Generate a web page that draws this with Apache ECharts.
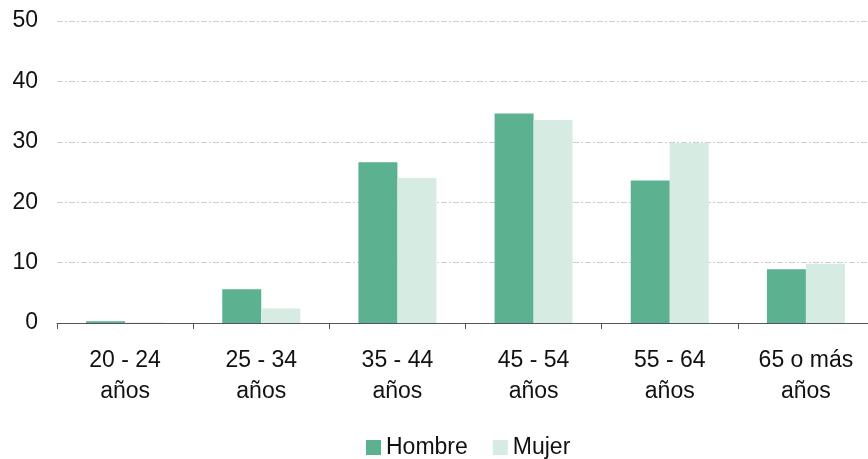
<!DOCTYPE html>
<html>
<head>
<meta charset="utf-8">
<script src="https://cdn.jsdelivr.net/npm/echarts@6/dist/echarts.min.js"></script>
<style>html,body{margin:0;padding:0;background:#fff;}#c{width:868px;height:459px;}</style>
</head>
<body>
<div id="c"></div>
<script>
const categories = ['20 - 24\naños', '25 - 34\naños', '35 - 44\naños', '45 - 54\naños', '55 - 64\naños', '65 o más\naños'];
const hombre = [0.3, 5.6, 26.6, 34.7, 23.6, 8.9];
const mujer = [0.1, 2.4, 24.0, 33.6, 29.8, 9.8];
const yTicks = [0, 10, 20, 30, 40, 50];

const FONT = 'Liberation Sans, Arial, sans-serif';
const chart = echarts.init(document.getElementById('c'), null, {renderer: 'canvas'});
chart.setOption({
  animation: false,
  textStyle: {fontFamily: FONT},
  grid: {left: 57, top: 21, width: 817, height: 302, containLabel: false, outerBoundsMode: 'none'},
  legend: {
    bottom: -5, left: 361, itemWidth: 15, itemHeight: 15, itemGap: 25,
    icon: 'rect',
    textStyle: {fontSize: 23, color: '#111', fontFamily: FONT},
    data: ['Hombre', 'Mujer']
  },
  xAxis: {
    type: 'category', data: categories,
    axisLine: {lineStyle: {color: '#555', width: 1}},
    axisTick: {show: true, length: 6, lineStyle: {color: '#555'}, alignWithLabel: false},
    axisLabel: {fontSize: 23, color: '#111', lineHeight: 31, margin: 22, interval: 0}
  },
  yAxis: {
    type: 'value', min: yTicks[0], max: yTicks[yTicks.length - 1], interval: 10,
    axisLine: {show: false}, axisTick: {show: false},
    axisLabel: {fontSize: 23, color: '#111', margin: 19},
    splitLine: {lineStyle: {color: '#cfcfcf', type: [6, 2, 2, 2], width: 1}}
  },
  series: [
    {name: 'Hombre', type: 'bar', data: hombre, barWidth: 39, barGap: '0%', itemStyle: {color: '#5bb190'}},
    {name: 'Mujer', type: 'bar', data: mujer, barWidth: 39, barGap: '0%', itemStyle: {color: '#d6ece3'}}
  ]
});
</script>
</body>
</html>
